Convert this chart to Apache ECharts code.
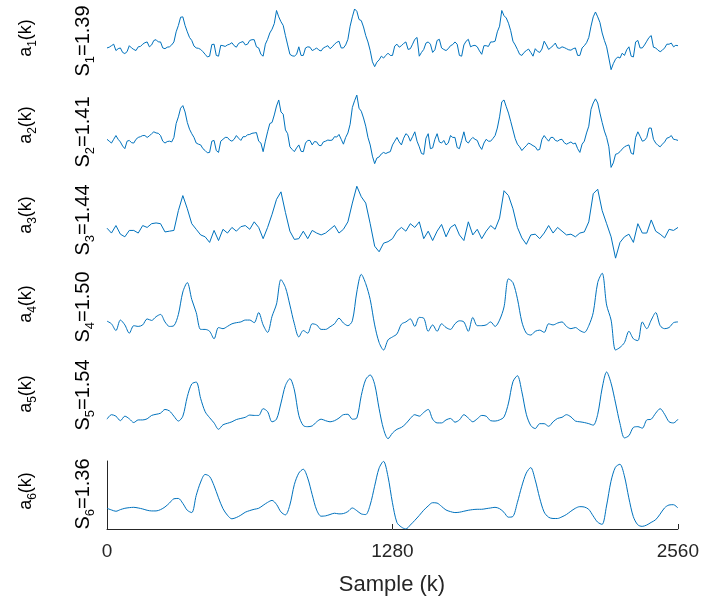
<!DOCTYPE html>
<html><head><meta charset="utf-8">
<script src="https://cdn.jsdelivr.net/npm/echarts@6/dist/echarts.min.js"></script>
<style>html,body{margin:0;padding:0;background:#fff}#c{width:702px;height:603px}</style>
</head><body><div id="c"></div>
<script>
// sample spacing of the stored points
const STEP_FINE = 10;   // a1, a2
const STEP = 20;        // a3..a6
const SAMPLE_MAX = 2560;
const xTicks = [0, 1280, 2560];
const xTitle = 'Sample (k)';
const levelIdx = ['1', '2', '3', '4', '5', '6'];
const sValues = ['1.39', '1.41', '1.44', '1.50', '1.54', '1.36'];

const a1 = [2, 4, 8, 12, -5, 0, 2, -10, -13, -8, 8, 2, -2, -5, 5, 6, 12, 16, 18, 5,
  10, 22, 24, 18, 18, 2, 0, 4, 5, 10, 18, 45, 62, 84, 85, 62, 45, 30, 22, 7,
  2, 1, -2, -8, -15, -22, -20, 11, 12, -18, -20, 9, 8, 6, 10, 12, 16, 8, 4, 14,
  17, 19, 10, 12, 22, 24, 24, 5, 2, -15, -20, 12, 25, 42, 52, 67, 102, 85, 72, 62,
  35, 10, -15, -19, -20, -15, 5, -18, -18, 2, 5, 4, -5, -2, 2, -4, -6, 2, 5, 8,
  0, 5, 12, 17, 20, 2, 2, 10, 25, 60, 85, 106, 100, 78, 75, 58, 35, 18, -5, -35,
  -48, -36, -30, -20, -25, -18, -12, -18, -18, 7, 12, 4, 8, 14, 18, -2, 0, 12, 25, 30,
  -20, -10, -2, 15, 18, 12, -10, -3, 22, 25, 2, -2, -5, 0, 8, 11, 18, 12, -18, -20,
  10, 20, 25, 5, 8, 9, 5, -6, -15, 8, 8, 6, 18, 18, 20, 45, 60, 102, 88, 82,
  68, 48, 20, 10, -2, -15, -18, -10, -5, -1, -10, -20, 0, -7, -10, -1, 20, 10, -2, 3,
  8, 15, 2, 1, 5, 3, 0, -3, -4, 0, 2, -18, -18, 2, 8, 16, 30, 60, 85, 98,
  85, 70, 42, 22, 5, -25, -56, -40, -28, -22, -25, -12, -18, -3, 5, -20, -22, 18, 22, 2,
  2, 10, 20, 30, 35, 4, 2, -4, -8, -4, 2, 12, 12, 15, 5, 9, 8];

const a2 = [3, -2, -7, 3, 13, 3, -4, -15, -22, -2, 0, -6, -7, 3, 8, 10, 13, 13, 8, 12,
  18, 23, 20, 19, 13, -2, -7, -3, -2, -4, 8, 45, 63, 86, 93, 76, 48, 30, 18, 8,
  -7, -10, -12, -22, -27, -33, -32, -2, 0, -27, -32, -2, 3, 8, 8, 1, -2, 3, 13, 6,
  0, 10, 10, 15, 16, 19, 20, 21, -2, -7, -30, -2, 23, 45, 48, 68, 92, 108, 76, 70,
  28, 18, -17, -24, -30, -20, -12, -29, -30, -7, 0, 0, -12, -3, -4, -13, -14, -4, -2, 1,
  0, 1, 10, 9, 16, 3, -10, 8, 20, 43, 88, 106, 121, 86, 78, 60, 38, 8, -12, -42,
  -62, -47, -44, -36, -32, -35, -32, -30, -12, -2, 8, -4, -12, 6, 18, 13, -2, 10, 23, -2,
  -17, -35, -37, 6, 18, -22, -20, 3, 18, -4, -7, 0, -12, -7, 13, 8, 8, -19, -22, 0,
  23, -2, -7, 2, 8, 3, 0, -15, -24, -7, 3, -2, -2, 5, 13, 33, 63, 103, 108, 90,
  73, 51, 28, 5, -10, -17, -27, -20, -14, -7, -10, -14, -17, -26, -24, 3, 13, 5, -2, 8,
  8, 0, -2, 2, 3, -6, -10, -7, -4, -9, -7, -22, -32, -10, -2, 20, 38, 83, 100, 111,
  100, 73, 48, 25, 8, -17, -72, -60, -37, -35, -30, -23, -17, -14, -12, -34, -37, 8, 23, 11,
  -2, 0, 8, 33, 33, 3, -7, -13, -17, -10, -4, 6, 8, 13, 3, 2, 0];

const a3 = [8, -5, 15, -8, -15, 2, 2, -5, 15, 10,
  20, 22, 20, -2, 0, 2, 55, 95, 60, 20,
  5, -10, -15, -30, 2, -25, 5, -5, 10, 0,
  12, 15, 5, 25, 10, -20, 10, 45, 85, 105,
  50, 0, -22, -20, 0, -20, 2, -5, -10, -5,
  5, 15, -5, 5, 25, 75, 120, 92, 75, 20,
  -40, -55, -32, -28, -20, 0, 10, 0, 20, 10,
  25, -20, 0, -25, 0, 18, -15, 10, 18, -10,
  -25, 25, -10, 5, -20, 0, 15, 5, 35, 108,
  95, 60, 10, -18, -35, -10, -8, -20, -5, 15,
  -5, 10, 0, -10, -8, -15, -5, -2, 25, 100,
  112, 55, 20, -15, -72, -30, -15, -8, -30, 20,
  -5, -5, 30, 0, -8, -18, 5, 2, 10];

const a4 = [7, 0, -18, 10, -3, -25, -5, -7, -3, 13,
  9, 19, 25, 5, -7, -5, 25, 85, 110, 65,
  30, -15, -15, -20, -40, -10, -13, -7, 0, 3,
  5, 10, 10, 3, 30, -3, -23, 20, 53, 118,
  97, 50, 0, -35, -18, -25, 0, -3, -15, -15,
  -8, 0, 15, 2, -5, 8, 85, 132, 107, 65,
  -3, -50, -70, -43, -35, -27, -1, 5, 13, -7,
  17, 15, -20, -3, -20, 0, -10, -15, 0, 8,
  5, -20, 17, -5, -5, -3, 5, -7, 10, 45,
  120, 110, 67, 5, -25, -30, -20, -17, -23, 0,
  -3, 2, 5, -7, -13, -10, -18, -23, -5, 30,
  110, 135, 50, 10, -70, -63, -50, -20, -40, -45,
  5, -13, 10, 30, -5, -13, -10, 3, 5];

const a5 = [0, 12, 8, -4, 8, 1, -9, -2, -2, 1,
  10, 13, 16, 26, 22, 8, -5, 8, 60, 94,
  99, 55, 20, 4, -10, -27, -15, -11, -7, -1,
  2, 5, 11, 10, 10, 28, 20, -7, 0, 43,
  90, 108, 78, 10, -17, -20, -18, -7, 0, -4,
  -7, -4, 3, 12, 13, 0, 3, 63, 106, 118,
  93, 28, -27, -52, -37, -27, -22, -12, 2, 12,
  8, 18, 26, 0, -10, -10, -2, 2, -8, -2,
  12, 3, -7, 1, 10, 8, -4, -5, -2, 6,
  43, 100, 116, 73, 13, -17, -25, -12, -12, -19,
  -7, 2, 5, 12, 6, -5, -7, -9, -12, -16,
  13, 83, 126, 96, 43, -12, -50, -44, -22, -20,
  -24, -2, 0, 16, 28, 13, -7, -10, 0];

const a6 = [63, 58, 54, 59, 63, 65, 66, 64, 61, 57,
  55, 55, 59, 67, 79, 92, 93, 78, 57, 50,
  102, 143, 166, 160, 132, 95, 62, 42, 31, 35,
  42, 51, 56, 60, 63, 72, 81, 87, 75, 52,
  43, 73, 135, 170, 182, 155, 105, 58, 39, 40,
  44, 48, 46, 47, 53, 64, 56, 46, 44, 73,
  130, 185, 206, 160, 80, 20, 6, 0, 12, 26,
  41, 57, 70, 80, 79, 69, 58, 53, 50, 51,
  54, 57, 59, 60, 60, 62, 64, 66, 62, 51,
  36, 38, 80, 130, 170, 187, 150, 95, 52, 36,
  32, 32, 37, 44, 54, 63, 68, 67, 60, 40,
  21, 14, 70, 145, 188, 197, 162, 95, 38, 13,
  8, 12, 20, 28, 45, 64, 73, 74, 64];

const signals = [a1, a2, a3, a4, a5, a6];
const steps = [STEP_FINE, STEP_FINE, STEP, STEP, STEP, STEP];

// layout (pixels) and y ranges per panel
const layout = [
  { top: 0, height: 110, min: -163.7, max: 130, smooth: false },
  { top: 75, height: 110, min: -119, max: 174.7, smooth: false },
  { top: 165, height: 110, min: -117, max: 176.7, smooth: false },
  { top: 252, height: 110, min: -102, max: 191.7, smooth: 0.3 },
  { top: 350, height: 110, min: -109, max: 184.7, smooth: 0.3 },
  { top: 461, height: 68, min: 0, max: 207, smooth: 0.3 }
];
const aLabelY = [38, 125, 215, 304, 394, 491];
const sLabelY = [41, 132, 220, 307, 395, 494];

const FONT = "'Liberation Sans', Arial, Helvetica, sans-serif";
const TXT = '#262626';
const LINE = '#0072BD';

const grid = [], xAxis = [], yAxis = [], series = [];
signals.forEach((vals, p) => {
  const L = layout[p];
  const last = p === signals.length - 1;
  grid.push({ left: 107, width: 571, top: L.top, height: L.height, containLabel: false });
  xAxis.push({
    type: 'value', gridIndex: p, min: 0, max: SAMPLE_MAX,
    interval: 1280, show: last,
    axisLine: { show: true, lineStyle: { color: TXT, width: 1 } },
    axisTick: { show: true, inside: true, length: 5, lineStyle: { color: TXT } },
    axisLabel: { show: true, margin: 13, fontSize: 19, color: TXT, fontFamily: FONT,
      customValues: xTicks, formatter: v => String(v) },
    splitLine: { show: false }
  });
  yAxis.push({
    type: 'value', gridIndex: p, min: L.min, max: L.max, show: last,
    axisLine: { show: true, onZero: false, lineStyle: { color: TXT, width: 1 } },
    axisTick: { show: false }, axisLabel: { show: false }, splitLine: { show: false }
  });
  series.push({
    type: 'line', xAxisIndex: p, yAxisIndex: p,
    data: vals.map((v, i) => [i * steps[p], v]),
    showSymbol: false, smooth: L.smooth,
    lineStyle: { color: LINE, width: 1 },
    silent: true
  });
});

const richA = {
  n: { fontSize: 18, fontFamily: FONT, color: TXT, lineHeight: 22, verticalAlign: 'top' },
  s: { fontSize: 12, fontFamily: FONT, color: TXT, lineHeight: 13, verticalAlign: 'top', padding: [10, 0, 0, 0] }
};
const richS = {
  n: { fontSize: 20, fontFamily: FONT, color: TXT, lineHeight: 24, verticalAlign: 'top' },
  s: { fontSize: 13, fontFamily: FONT, color: TXT, lineHeight: 14, verticalAlign: 'top', padding: [11, 0, 0, 0] }
};
const graphic = [];
levelIdx.forEach((k, p) => {
  graphic.push({
    type: 'text', x: 28, y: aLabelY[p], rotation: Math.PI / 2,
    style: { text: '{n|a}{s|' + k + '}{n|(k)}', rich: richA, align: 'center', verticalAlign: 'middle' }
  });
  graphic.push({
    type: 'text', x: 85, y: sLabelY[p], rotation: Math.PI / 2,
    style: { text: '{n|S}{s|' + k + '}{n|=' + sValues[p] + '}', rich: richS, align: 'center', verticalAlign: 'middle' }
  });
});
graphic.push({
  type: 'text', x: 392, y: 585,
  style: { text: xTitle, fontSize: 22, fontFamily: FONT, fill: TXT, align: 'center', verticalAlign: 'middle' }
});

const chart = echarts.init(document.getElementById('c'), null, { renderer: 'canvas' });
chart.setOption({ animation: false, backgroundColor: '#fff', grid, xAxis, yAxis, series, graphic });
</script></body></html>
